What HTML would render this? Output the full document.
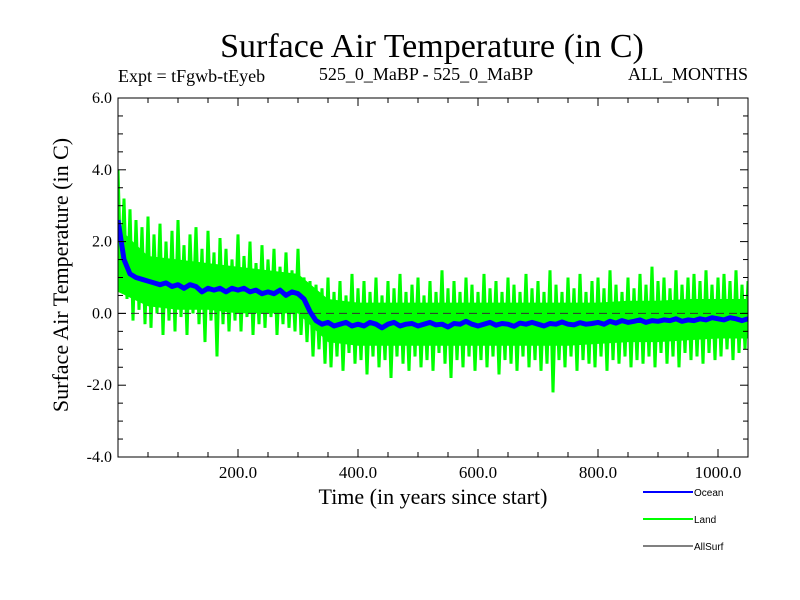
<!DOCTYPE html>
<html><head><meta charset="utf-8"><style>
body{margin:0;background:#fff}
svg{display:block;font-family:"Liberation Serif",serif}
</style></head><body>
<svg id="chart" width="800" height="600" viewBox="0 0 800 600">
<rect width="800" height="600" fill="#fff"/>
<text x="432" y="57" font-size="34" text-anchor="middle">Surface Air Temperature (in C)</text>
<text x="118" y="82" font-size="18">Expt = tFgwb-tEyeb</text>
<text x="426" y="80" font-size="18" text-anchor="middle">525_0_MaBP - 525_0_MaBP</text>
<text x="748" y="80" font-size="18" text-anchor="end">ALL_MONTHS</text>
<text transform="translate(68,275) rotate(-90)" font-size="22" text-anchor="middle">Surface Air Temperature (in C)</text>
<text x="433" y="504" font-size="22" text-anchor="middle">Time (in years since start)</text>
<g id="plot"></g>
<g font-family="Liberation Sans, sans-serif" font-size="10">
<line x1="643" y1="492" x2="693" y2="492" stroke="#0000ff" stroke-width="2"/>
<text x="694" y="496">Ocean</text>
<line x1="643" y1="519" x2="693" y2="519" stroke="#00ff00" stroke-width="2"/>
<text x="694" y="523">Land</text>
<line x1="643" y1="546" x2="693" y2="546" stroke="#000" stroke-width="1"/>
<text x="694" y="550">AllSurf</text>
</g>
</svg>
<script>
const landYears0 = 0, landStep = 5;
const landValues = [4.0,1.0,3.2,0.4,2.9,-0.2,2.6,0.1,2.4,-0.3,2.7,-0.4,2.2,0.0,2.5,-0.6,2.0,-0.2,2.3,-0.5,
2.6,-0.1,1.9,-0.6,2.2,0.0,2.4,-0.3,1.8,-0.8,2.3,-0.2,1.7,-1.2,2.1,-0.3,1.8,-0.5,1.5,-0.2,
2.2,-0.5,1.6,-0.1,2.0,-0.6,1.4,-0.3,1.9,-0.4,1.5,-0.1,1.8,-0.6,1.3,-0.3,1.7,-0.4,1.2,-0.5,
1.8,-0.6,1.0,-0.8,0.9,-1.2,0.8,-1.0,0.7,-1.4,1.0,-1.5,0.6,-1.2,0.9,-1.6,0.5,-1.1,1.1,-1.4,
0.7,-1.3,0.9,-1.7,0.6,-1.2,1.0,-1.5,0.5,-1.3,0.9,-1.8,0.7,-1.2,1.1,-1.4,0.6,-1.6,0.8,-1.2,
1.0,-1.5,0.5,-1.3,0.9,-1.6,0.6,-1.1,1.2,-1.4,0.7,-1.8,0.9,-1.3,0.6,-1.5,1.0,-1.2,0.8,-1.6,
0.6,-1.3,1.1,-1.5,0.7,-1.2,0.9,-1.7,0.6,-1.3,1.0,-1.4,0.8,-1.6,0.6,-1.2,1.1,-1.5,0.7,-1.3,
0.9,-1.6,0.6,-1.4,1.2,-2.2,0.8,-1.3,0.6,-1.5,1.0,-1.2,0.7,-1.6,1.1,-1.3,0.6,-1.4,0.9,-1.5,
1.0,-1.2,0.7,-1.6,1.2,-1.3,0.8,-1.4,0.6,-1.2,1.0,-1.5,0.7,-1.3,1.1,-1.4,0.8,-1.2,1.3,-1.5,
0.9,-1.1,1.0,-1.4,0.7,-1.2,1.2,-1.5,0.8,-1.1,1.0,-1.3,1.1,-1.2,0.9,-1.4,1.2,-1.1,0.8,-1.3,
1.0,-1.2,1.1,-1.0,0.9,-1.3,1.2,-1.1,0.8,-1.0,0.9];
const landCoreStep = 50;
const landCoreHi = [2.4,1.6,1.5,1.4,1.3,1.2,1.1,0.4,0.3,0.3,0.3,0.3,0.3,0.3,0.3,0.3,0.3,0.35,0.35,0.4,0.4,0.4];
const landCoreLo = [0.6,0.2,0.1,0.1,0.0,0.0,0.0,-0.8,-0.9,-0.9,-0.9,-0.9,-0.9,-0.9,-0.9,-0.9,-0.85,-0.8,-0.8,-0.75,-0.7,-0.7];
const oceanStep = 10;
const oceanValues = [2.6,1.5,1.1,1.0,0.95,0.9,0.85,0.8,0.85,0.75,0.8,0.7,0.8,0.75,0.6,0.7,0.65,0.7,0.6,0.7,
0.65,0.7,0.6,0.65,0.55,0.6,0.55,0.65,0.5,0.6,0.55,0.4,0.05,-0.2,-0.3,-0.25,-0.35,-0.3,-0.25,-0.35,
-0.3,-0.35,-0.25,-0.3,-0.4,-0.3,-0.25,-0.35,-0.3,-0.28,-0.35,-0.3,-0.25,-0.32,-0.3,-0.38,-0.28,-0.3,-0.22,-0.3,
-0.35,-0.3,-0.25,-0.33,-0.28,-0.3,-0.36,-0.27,-0.3,-0.25,-0.3,-0.35,-0.28,-0.3,-0.24,-0.3,-0.32,-0.26,-0.3,-0.28,
-0.25,-0.3,-0.22,-0.27,-0.2,-0.25,-0.22,-0.18,-0.25,-0.2,-0.22,-0.18,-0.2,-0.15,-0.22,-0.18,-0.2,-0.15,-0.18,-0.12,
-0.15,-0.18,-0.12,-0.15,-0.2,-0.15];
const yTicks = [6.0,4.0,2.0,0.0,-2.0,-4.0];
const yTickLabels = ["6.0","4.0","2.0","0.0","-2.0","-4.0"];
const xTicks = [200,400,600,800,1000];
const xTickLabels = ["200.0","400.0","600.0","800.0","1000.0"];

const NS="http://www.w3.org/2000/svg";
const L=118,R=748,T=98,B=457, XMIN=0,XMAX=1050,YMIN=-4,YMAX=6;
const xs=v=>L+(v-XMIN)/(XMAX-XMIN)*(R-L);
const ys=v=>B-(v-YMIN)/(YMAX-YMIN)*(B-T);
const plot=document.getElementById('plot');
function mk(tag,attrs){const e=document.createElementNS(NS,tag);for(const k in attrs)e.setAttribute(k,attrs[k]);plot.appendChild(e);return e;}

const clip=mk('clipPath',{id:'clp'});
const cr=document.createElementNS(NS,'rect');cr.setAttribute('x',L);cr.setAttribute('y',T);cr.setAttribute('width',R-L);cr.setAttribute('height',B-T);clip.appendChild(cr);

const coreTop=landCoreHi.map((v,i)=>xs(i*landCoreStep).toFixed(1)+','+ys(v).toFixed(1));
const coreBot=landCoreLo.map((v,i)=>xs(i*landCoreStep).toFixed(1)+','+ys(v).toFixed(1)).reverse();
const core=mk('polygon',{points:coreTop.concat(coreBot).join(' '),fill:'#00ff00','clip-path':'url(#clp)'});



const landPts=landValues.map((v,i)=>xs(landYears0+i*landStep).toFixed(1)+','+ys(v).toFixed(1)).join(' ');
const land=mk('polyline',{points:landPts,fill:'none',stroke:'#00ff00','stroke-width':3,'clip-path':'url(#clp)'});



const zero=mk('line',{x1:L,x2:R,y1:ys(0),y2:ys(0),stroke:'#333','stroke-dasharray':'8,5','stroke-width':1});



const oceanPts=oceanValues.map((v,i)=>xs(i*oceanStep).toFixed(1)+','+ys(v).toFixed(1)).join(' ');
const ocean=mk('polyline',{points:oceanPts,fill:'none',stroke:'#0000ff','stroke-width':5,'stroke-linejoin':'round','clip-path':'url(#clp)'});



const frame=mk('rect',{x:L,y:T,width:R-L,height:B-T,fill:'none',stroke:'#000','stroke-width':1});



for(let v=YMIN;v<=YMAX+1e-9;v+=0.5){
  const major=Math.abs(v/2-Math.round(v/2))<1e-9, len=major?8:5, y=ys(v);
  const t1=mk('line',{x1:L,x2:L+len,y1:y,y2:y,stroke:'#000'});
  
  
  const t2=mk('line',{x1:R-len,x2:R,y1:y,y2:y,stroke:'#000'});
  
  
}
for(let v=50;v<XMAX;v+=50){
  const major=v%200===0, len=major?8:5, x=xs(v);
  const t1=mk('line',{x1:x,x2:x,y1:B,y2:B-len,stroke:'#000'});
  
  
  const t2=mk('line',{x1:x,x2:x,y1:T,y2:T+len,stroke:'#000'});
  
  
}
yTicks.forEach((v,i)=>{
  const t=mk('text',{x:L-6,y:ys(v)+5,'font-size':16,'text-anchor':'end'});
  t.textContent=yTickLabels[i];
  
  
});
xTicks.forEach((v,i)=>{
  const t=mk('text',{x:xs(v),y:B+21,'font-size':17,'text-anchor':'middle'});
  t.textContent=xTickLabels[i];
  
  
});
</script>
</body></html>
